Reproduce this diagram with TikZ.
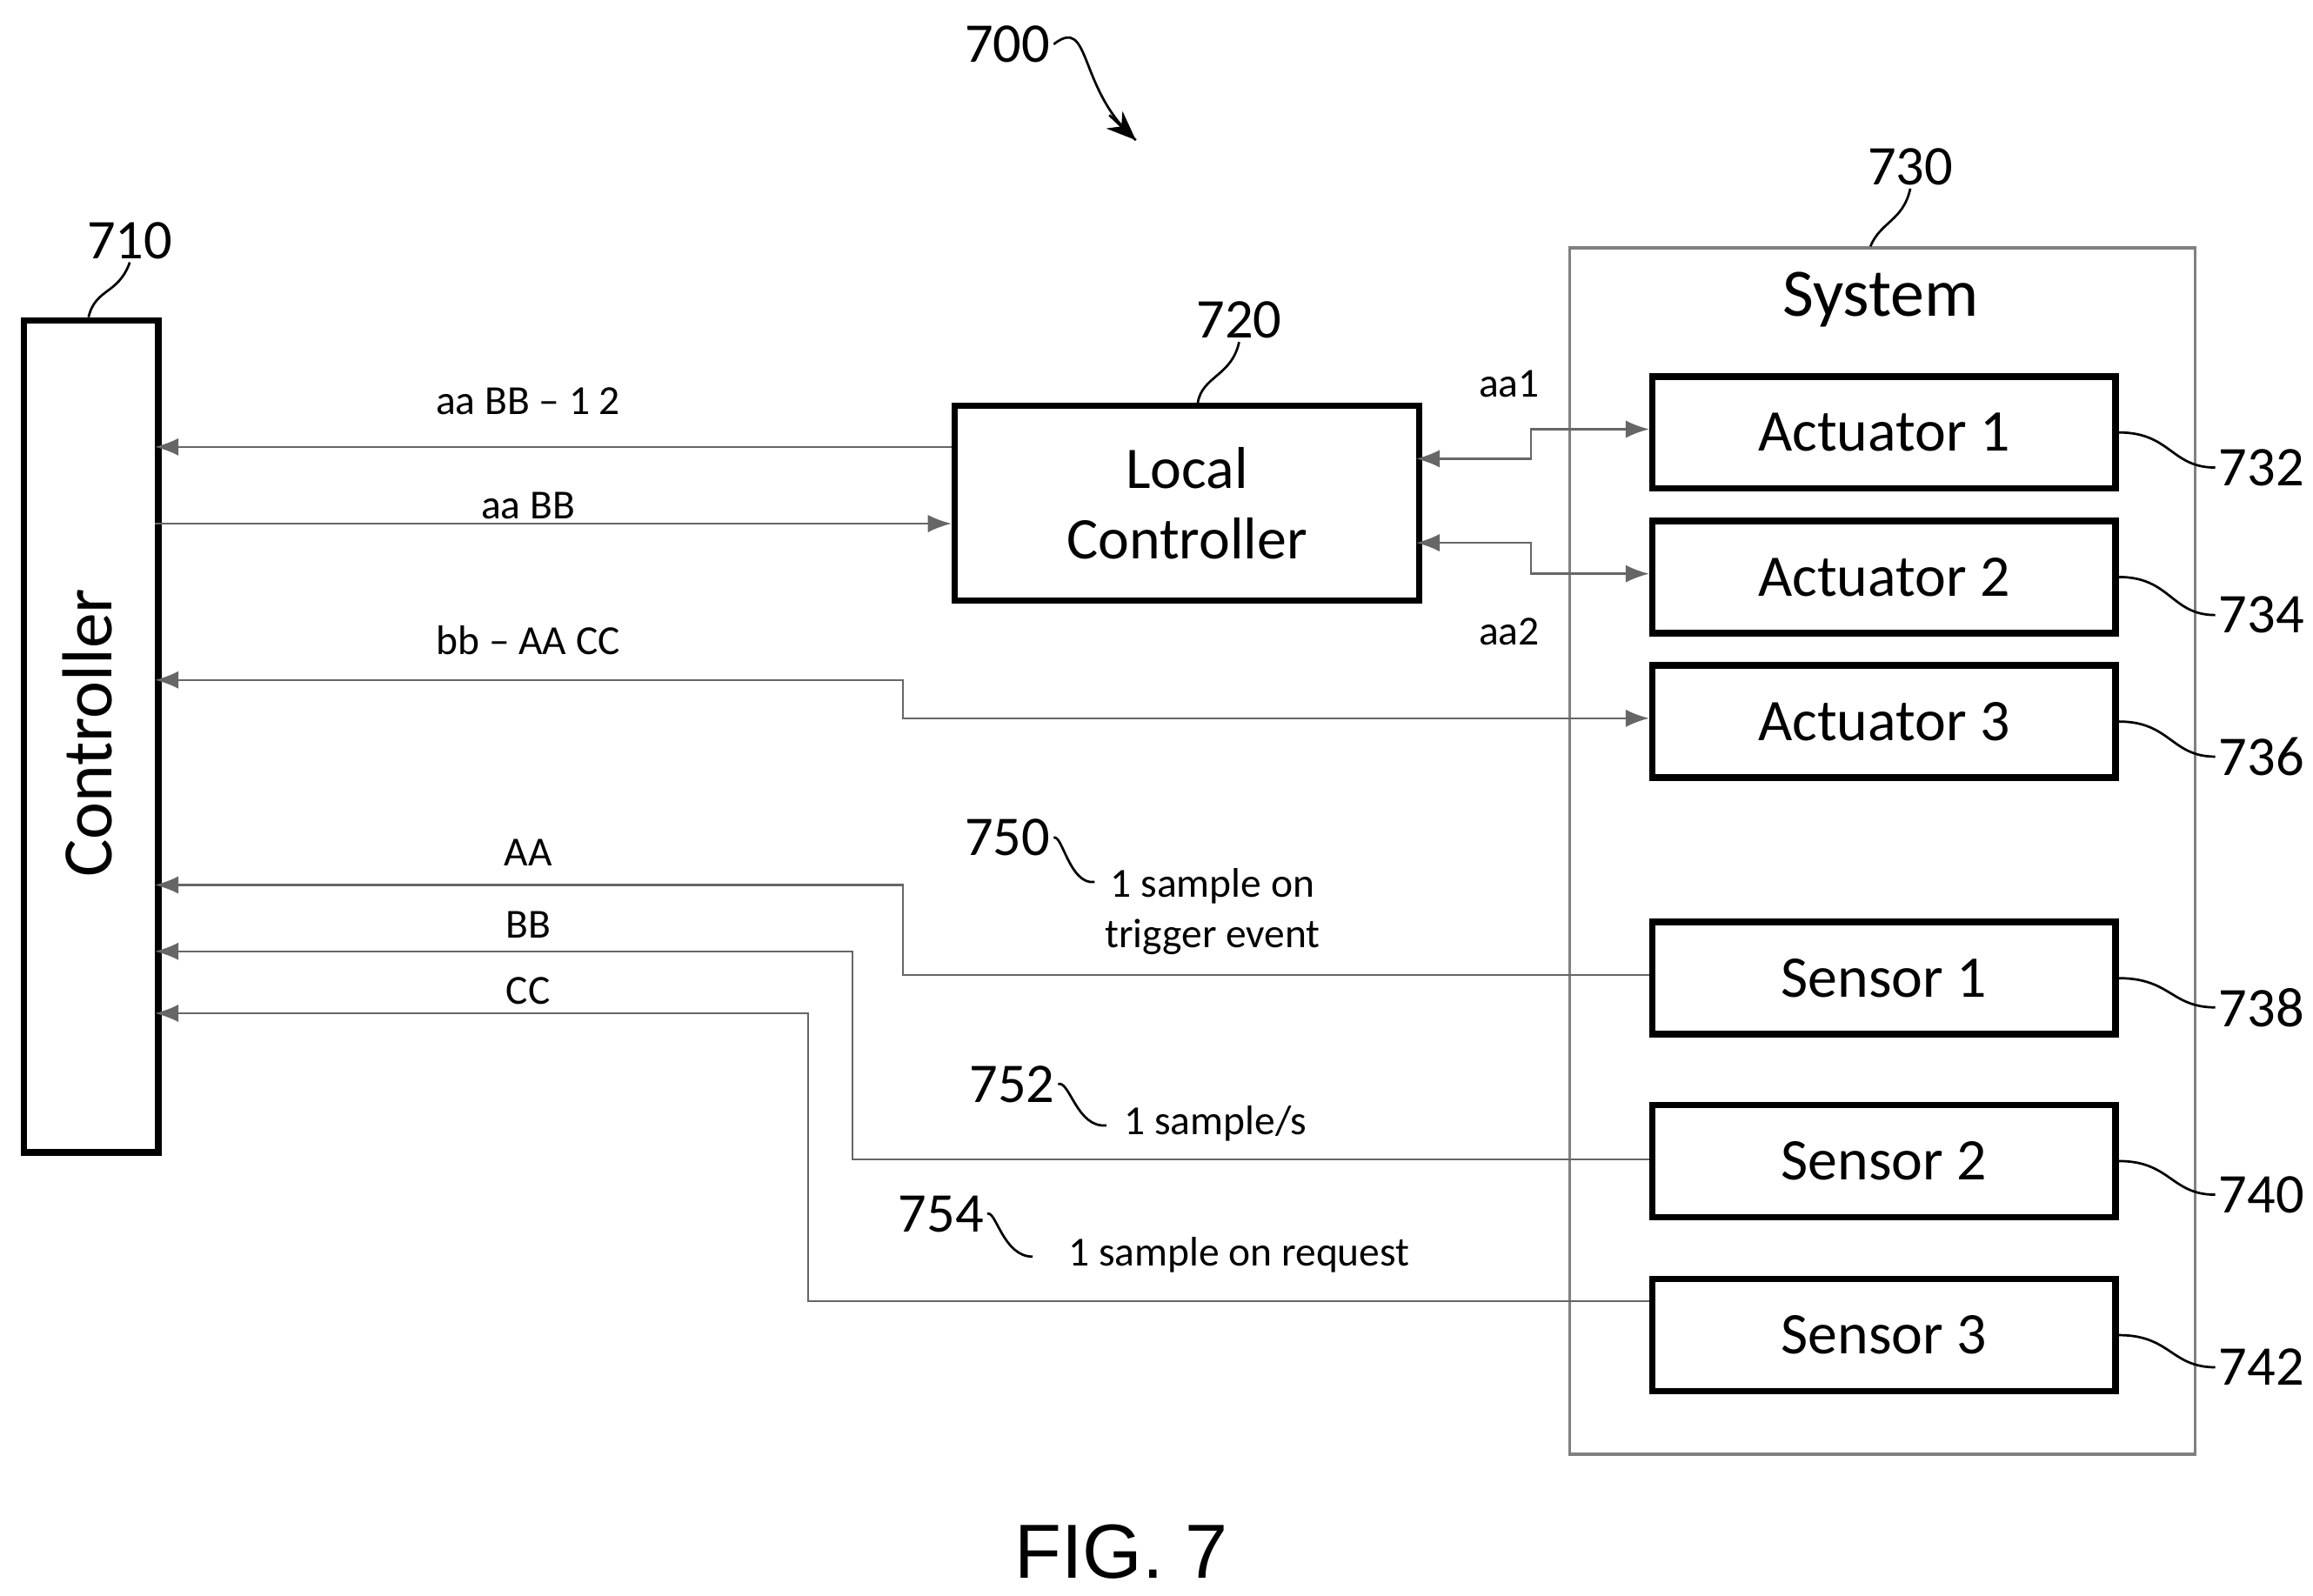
\documentclass[tikz,border=0pt]{standalone}
\usepackage{fontspec}
\setmainfont{Carlito}
\newfontfamily\figfont{Liberation Sans}
\usetikzlibrary{arrows.meta}
\begin{document}
\begin{tikzpicture}[x=0.5pt,y=-0.5pt,
  blk/.style={draw,line width=2.2pt,inner sep=0pt},
  big/.style={font=\fontsize{20}{24}\selectfont},
  lab/.style={font=\fontsize{14}{17}\selectfont},
  ref/.style={font=\fontsize{19}{22}\selectfont,inner sep=1pt},
  sig/.style={draw=black!60,line width=0.7pt,-{Latex[length=8pt,width=6pt]}},
  sig2/.style={draw=black!60,line width=0.7pt,{Latex[length=8pt,width=6pt]}-{Latex[length=8pt,width=6pt]}},
  lead/.style={line width=0.8pt}]
\useasboundingbox (0,0) rectangle (1568,1082);
% boxes
\node[blk,minimum width=45.5pt,minimum height=282pt,anchor=north west] (ctl) at (14,215) {};
\node[big,rotate=90,font=\fontsize{24}{28}\selectfont] (ctlt) at (59,497) {Controller};
\node[blk,minimum width=157.5pt,minimum height=66pt,anchor=north west,big,align=center] (lc) at (645,273) {Local\\Controller};
\node[draw=black!50,line width=1pt,minimum width=212pt,minimum height=409pt,anchor=north west] (sys) at (1063,167) {};
\node[big,font=\fontsize{23}{27}\selectfont] (syst) at (1275,203) {System};
\foreach \n/\t/\y in {a1/Actuator 1/253,a2/Actuator 2/351,a3/Actuator 3/449,s1/Sensor 1/623,s2/Sensor 2/747,s3/Sensor 3/865}
  \node[blk,big,minimum width=157pt,minimum height=38pt,anchor=north west] (\n) at (1118,\y) {\t};
% reference numerals
\node[ref] (r700) at (683,30) {700};
\node[ref] (r710) at (88,163) {710};
\node[ref] (r720) at (840,217) {720};
\node[ref] (r730) at (1295,113) {730};
\foreach \n/\t/\y in {a1/732/317,a2/734/417,a3/736/513,s1/738/683,s2/740/810,s3/742/927}{
  \node[ref] (r\t) at (1533,\y) {\t};
  \draw[lead] (\n.east) .. controls +(35,0) and +(-30,0) .. (r\t.west);
}
\draw[lead] (r700.east) .. controls (740,10) and (730,60) .. (770,95);
\draw[-{Stealth[length=10pt,width=8pt]},lead] (752,78) -- (770,95);
\draw[lead] (r710.south) .. controls (80,200) and (65,195) .. (60,215);
\draw[lead] (r720.south) .. controls (835,255) and (815,255) .. (812,273);
\draw[lead] (r730.south) .. controls (1290,150) and (1275,150) .. (1268,167);
% signals
\coordinate (c1) at (105,303); \coordinate (c2) at (105,355);
\coordinate (c3) at (105,461); \coordinate (c4) at (105,600);
\coordinate (c5) at (105,645); \coordinate (c6) at (105,687);
\draw[sig] (lc.west|-c1) -- (c1);
\draw[sig] (c2) -- (lc.west|-c2);
\node[lab] (l1) at (358,272) {aa BB -- 1 2};
\node[lab] (l2) at (358,343) {aa BB};
\draw[sig2] (960,311) -- (1038,311) -- (1038,291) -- (a1.west|-0,291);
\draw[sig2] (960,368) -- (1038,368) -- (1038,389) -- (a2.west|-0,389);
\node[lab] (laa1) at (1023,260) {aa1};
\node[lab] (laa2) at (1023,428) {aa2};
\draw[sig2] (c3) -- (612,461) -- (612,487) -- (a3.west|-0,487);
\node[lab] (l3) at (358,434) {bb -- AA CC};
\draw[sig] (s1.west|-0,661) -- (612,661) -- (612,600) -- (c4);
\draw[sig] (s2.west|-0,786) -- (578,786) -- (578,645) -- (c5);
\draw[sig] (s3.west|-0,882) -- (548,882) -- (548,687) -- (c6);
\node[lab] (lAA) at (358,578) {AA};
\node[lab] (lBB) at (358,627) {BB};
\node[lab] (lCC) at (358,672) {CC};
% annotations
\node[lab,align=center] (t750) at (822,618) {1 sample on\\trigger event};
\node[ref] (r750) at (683,568) {750};
\draw[lead] (r750.east) .. controls (720,565) and (725,600) .. (742,598);
\node[lab] (t752) at (824,762) {1 sample/s};
\node[ref] (r752) at (686,735) {752};
\draw[lead] (r752.east) .. controls (725,732) and (730,765) .. (750,763);
\node[lab] (t754) at (840,851) {1 sample on request};
\node[ref] (r754) at (638,823) {754};
\draw[lead] (r754.east) .. controls (675,820) and (680,852) .. (700,852);
\node[font=\figfont\fontsize{26}{30}\selectfont] (fig) at (760,1052) {FIG. 7};
\end{tikzpicture}
\end{document}
